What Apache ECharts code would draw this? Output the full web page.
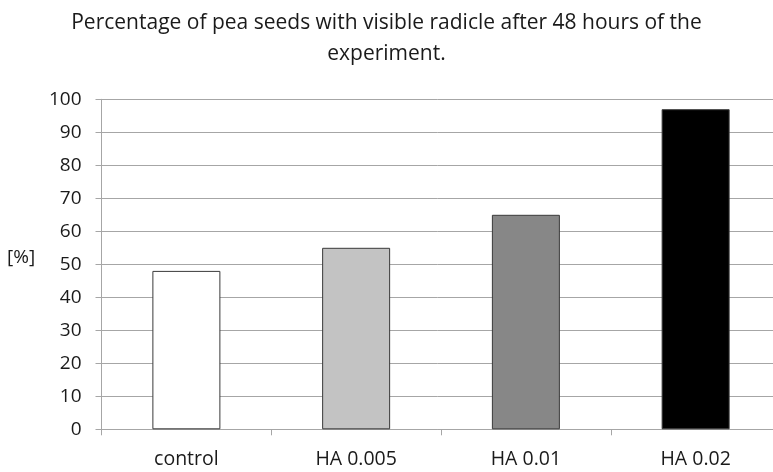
<!DOCTYPE html>
<html><head><meta charset="utf-8">
<script src="https://cdn.jsdelivr.net/npm/echarts@6/dist/echarts.min.js"></script>
<style>html,body{margin:0;padding:0;background:#fff}#c{width:773px;height:472px}</style>
</head><body><div id="c"></div>
<script>
var categories = ['control', 'HA 0.005', 'HA 0.01', 'HA 0.02'];
var values = [48, 55, 65, 97];
var barColors = ['#ffffff', '#c3c3c3', '#878787', '#000000'];
var yTicks = [0, 10, 20, 30, 40, 50, 60, 70, 80, 90, 100];
var titleLines = ['Percentage of pea seeds with visible radicle after 48 hours of the', 'experiment.'];
var yName = '[%]';

var FONT = '"Open Sans", "Noto Sans", sans-serif';
var chart = echarts.init(document.getElementById('c'), null, {renderer: 'canvas'});
chart.setOption({
  animation: false,
  backgroundColor: '#fff',
  title: {
    text: titleLines.join('\n'), left: 'center', top: 3,
    textStyle: {fontFamily: FONT, fontSize: 21, fontWeight: 'normal', color: '#1a1a1a', lineHeight: 31}
  },
  grid: {left: 101.5, width: 679, top: 99.3, bottom: 42.7, containLabel: false, outerBoundsMode: 'none'},
  xAxis: {
    type: 'category', data: categories,
    axisLine: {lineStyle: {color: '#a6a6a6', width: 1}},
    axisTick: {show: true, length: 6, alignWithLabel: false, lineStyle: {color: '#a6a6a6'}},
    axisLabel: {fontFamily: FONT, fontSize: 19.5, color: '#1a1a1a', margin: 20}
  },
  yAxis: {
    type: 'value', min: yTicks[0], max: yTicks[yTicks.length - 1], interval: 10,
    axisLine: {show: true, lineStyle: {color: '#a6a6a6', width: 1}},
    axisTick: {show: true, length: 6, lineStyle: {color: '#a6a6a6'}},
    splitLine: {lineStyle: {color: '#a6a6a6', width: 1}},
    axisLabel: {fontFamily: FONT, fontSize: 19, color: '#1a1a1a', margin: 20}
  },
  graphic: [{
    type: 'text', left: 7, top: 248,
    style: {text: yName, font: '19px ' + FONT, fill: '#1a1a1a'}
  }],
  series: [{
    type: 'bar', barWidth: 68,
    data: values.map(function (v, i) {
      return {value: v, itemStyle: {color: barColors[i], borderColor: '#3a3a3a', borderWidth: 1}};
    })
  }]
});
</script></body></html>
